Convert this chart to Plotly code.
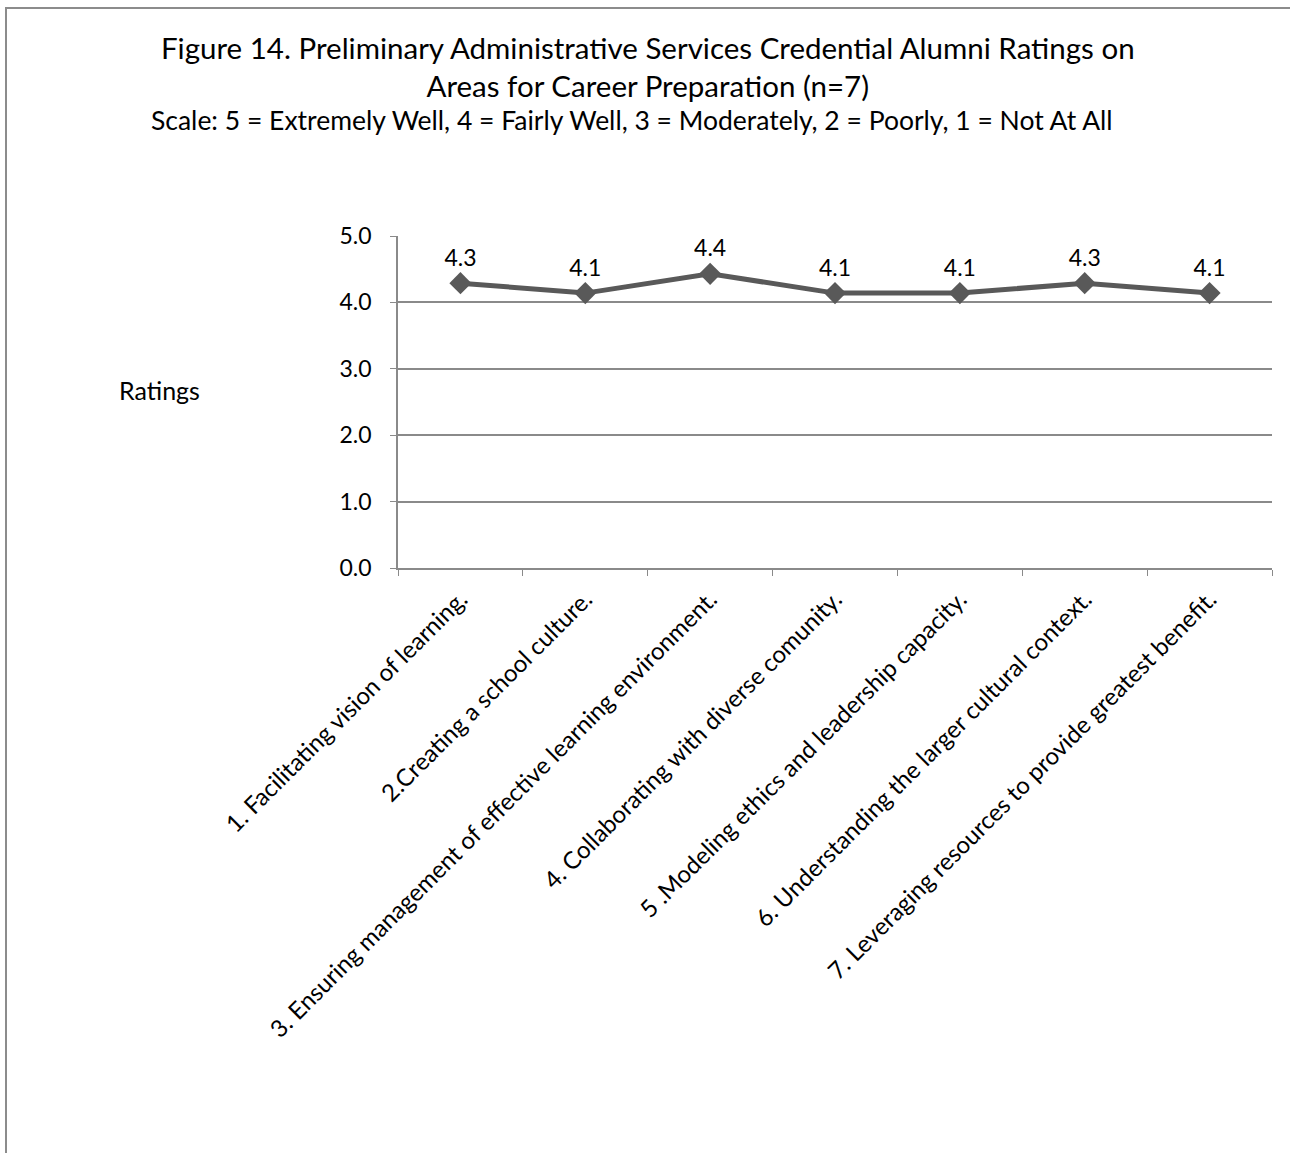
import plotly.graph_objects as go

categories = [
    "1. Facilitating vision of learning.",
    "2.Creating a school culture.",
    "3. Ensuring management of effective learning environment.",
    "4. Collaborating with diverse comunity.",
    "5 .Modeling ethics and leadership capacity.",
    "6. Understanding the larger cultural context.",
    "7. Leveraging resources to provide greatest benefit.",
]
ratings = [4.29, 4.14, 4.43, 4.14, 4.14, 4.29, 4.14]
rating_labels = ["4.3", "4.1", "4.4", "4.1", "4.1", "4.3", "4.1"]
y_ticks = [0, 1, 2, 3, 4, 5]
y_tick_labels = ["0.0", "1.0", "2.0", "3.0", "4.0", "5.0"]

FONT = "Lato, 'Open Sans', sans-serif"
W, H = 1290, 1153
L, R, T, B = 398, 18, 236, 585
pw = W - L - R
ph = H - T - B

fig = go.Figure()
fig.add_trace(go.Scatter(
    x=categories, y=ratings, mode="lines+markers+text",
    text=rating_labels, textposition="top center",
    textfont=dict(size=23, color="#000000", family=FONT),
    line=dict(color="#595959", width=5),
    marker=dict(symbol="diamond", size=17, color="#595959"),
    cliponaxis=False, showlegend=False,
))

def px_to_paper_x(px):
    return (px - L) / pw

def py_to_paper_y(py):
    return (H - B - py) / ph

fig.update_layout(
    width=W, height=H,
    margin=dict(l=L, r=R, t=T, b=B),
    paper_bgcolor="white", plot_bgcolor="white",
    font=dict(family=FONT, size=23, color="#000000"),
    xaxis=dict(
        type="category", range=[-0.5, 6.5], tickson="boundaries",
        ticks="outside", ticklen=6, tickcolor="#8a8a8a",
        showline=True, linecolor="#8a8a8a", linewidth=1.5,
        showgrid=False, tickangle=-45, ticklabelstandoff=6,
        tickfont=dict(size=24, family=FONT),
    ),
    yaxis=dict(
        range=[0, 5], tickvals=y_ticks, ticktext=y_tick_labels,
        ticks="outside", ticklen=6, tickcolor="#8a8a8a",
        showline=True, linecolor="#8a8a8a", linewidth=1.5,
        showgrid=True, gridcolor="#8a8a8a", gridwidth=1.5,
        zeroline=False, ticklabelstandoff=14,
        tickfont=dict(size=23, family=FONT),
    ),
    annotations=[
        dict(text="Figure 14. Preliminary Administrative Services Credential Alumni Ratings on<br>Areas for Career Preparation (n=7)",
             x=px_to_paper_x(648), y=py_to_paper_y(28), xref="paper", yref="paper",
             xanchor="center", yanchor="top", showarrow=False,
             font=dict(size=29.5, family=FONT)),
        dict(text="Scale: 5 = Extremely Well, 4 = Fairly Well, 3 = Moderately, 2 = Poorly, 1 = Not At All",
             x=px_to_paper_x(632), y=py_to_paper_y(120), xref="paper", yref="paper",
             xanchor="center", yanchor="middle", showarrow=False,
             font=dict(size=26.5, family=FONT)),
        dict(text="Ratings", x=px_to_paper_x(159), y=py_to_paper_y(390),
             xref="paper", yref="paper", xanchor="center", yanchor="middle",
             showarrow=False, font=dict(size=25, family=FONT)),
    ],
    shapes=[
        dict(type="rect", xref="paper", yref="paper",
             x0=px_to_paper_x(6), x1=px_to_paper_x(1400),
             y0=py_to_paper_y(1250), y1=py_to_paper_y(8),
             line=dict(color="#8c8c8c", width=2), fillcolor="rgba(0,0,0,0)"),
    ],
)

fig.write_html("out.html")
